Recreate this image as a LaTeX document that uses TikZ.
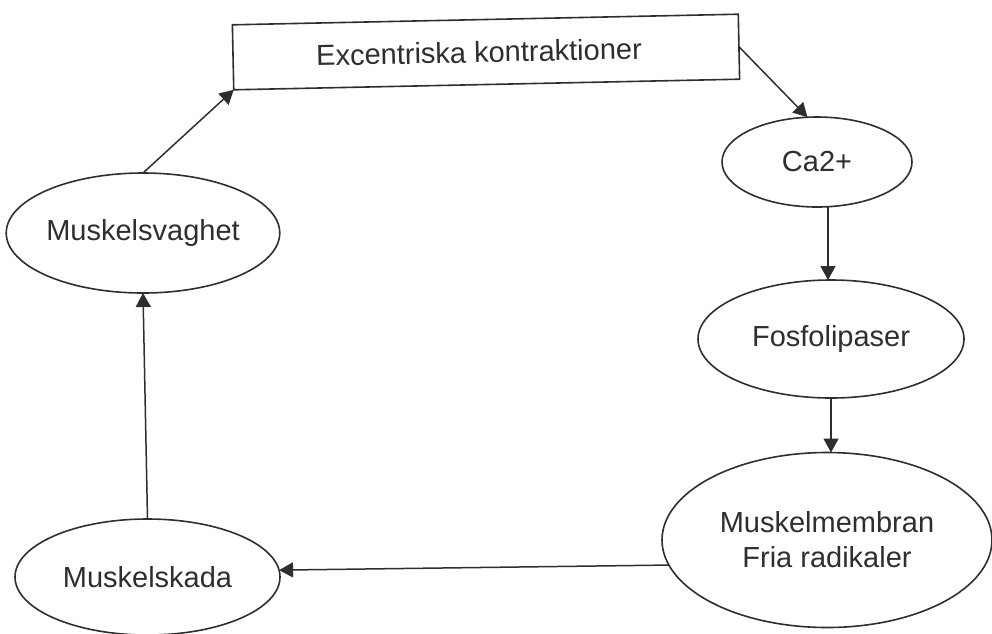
\documentclass[tikz,border=0pt]{standalone}
\usepackage{fontspec}
\setmainfont{Liberation Sans}
\usetikzlibrary{shapes.geometric,arrows.meta}
\definecolor{ink}{HTML}{2E2E2E}
\begin{document}
\begin{tikzpicture}[x=1pt,y=-1pt,
  every node/.style={font=\fontsize{29}{35}\selectfont, text=ink},
  oval/.style={ellipse, draw=ink, line width=1.6pt, inner sep=0pt, outer sep=0pt},
  box/.style={rectangle, draw=ink, line width=1.6pt, inner sep=0pt, outer sep=0pt, minimum width=506pt, minimum height=65pt},
  arr/.style={draw=ink, line width=1.5pt, -{Triangle[length=14pt,width=15pt]}}]
\useasboundingbox (0,0) rectangle (992,633);
\node[box, rotate=1.2] (exc) at (486,52) {Excentriska kontraktioner\hspace*{14pt}};
\node[oval, minimum width=190pt, minimum height=90pt] (ca) at (817,162) {Ca2+};
\node[oval, minimum width=266pt, minimum height=118pt] (fos) at (831,339) {Fosfolipaser};
\node[oval, minimum width=330pt, minimum height=175pt, align=center] (mm) at (827,540) {Muskelmembran\\Fria radikaler};
\node[oval, minimum width=265pt, minimum height=116pt] (msk) at (147.5,577) {Muskelskada};
\node[oval, minimum width=266pt, minimum height=120pt] (msv) at (143,233) {Muskelsvaghet};
\draw[arr] (exc.east) -- (ca.102);
\draw[arr] ([xshift=-3pt]ca.south -| fos.north) -- ([xshift=-3pt]fos.north);
\draw[arr] (fos.south) -- (fos.south |- mm.north);
\draw[arr] (mm.189) -- (msk.3);
\draw[arr] (msk.north) -- (msv.south);
\draw[arr] (msv.north) -- (exc.south west);
\end{tikzpicture}
\end{document}
